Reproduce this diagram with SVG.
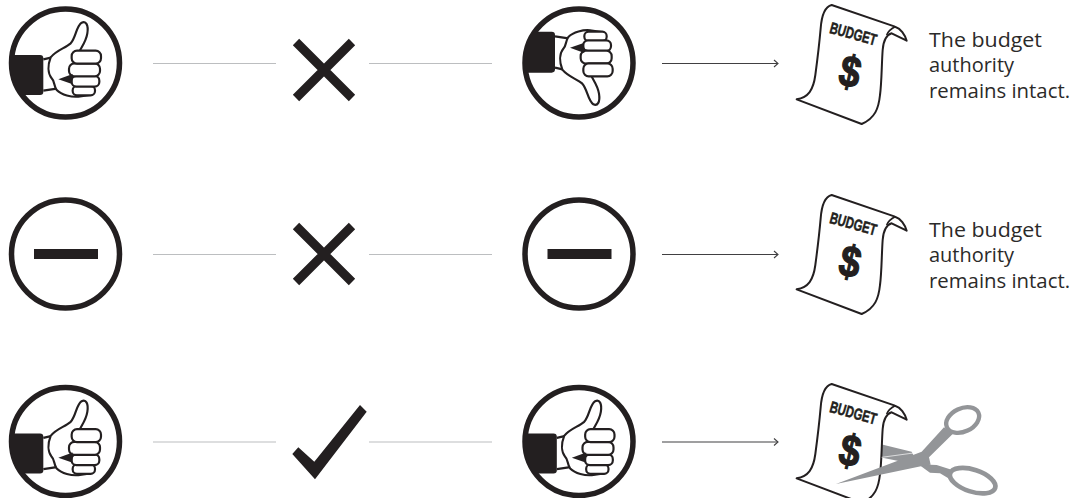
<svg xmlns="http://www.w3.org/2000/svg" width="1082" height="498" viewBox="0 0 1082 498">
<style>
.ring{fill:#fff;stroke:#231f20;stroke-width:5.5}
.k{fill:#231f20}
.h{fill:#fff;stroke:#231f20;stroke-width:6.5;stroke-linejoin:round}
.g{stroke:#bcbec0;stroke-width:1.2;fill:none}
.a{stroke:#414042;stroke-width:1.2;fill:none}
.mark{stroke:#231f20;stroke-width:9;fill:none}
.doc{fill:#fff;stroke:#231f20;stroke-width:6;stroke-linejoin:round}
.t{font-family:"Open Sans",Lato,sans-serif;font-size:19.5px;fill:#2b2a29}
.bt{font-family:"Liberation Sans",sans-serif;font-weight:bold;fill:#231f20}
.sc{fill:#939598}
.scr{fill:none;stroke:#939598}
</style>
<defs>
<marker id="ah" markerUnits="userSpaceOnUse" markerWidth="8" markerHeight="10" refX="6.5" refY="5" orient="auto"><path d="M2.5 1.5 L6.5 5 L2.5 8.5" fill="none" stroke="#414042" stroke-width="1.1"/></marker>
<g id="hand">
<path class="h" d="M130 178 L156 172 M130 272 L170 266" fill="none"/>
<path class="h" d="M152 172 C170 150 195 145 212 130 C228 112 228 80 245 68 C258 62 266 75 262 100 C258 125 245 140 238 155 L280 160 L270 285 L235 290 C215 292 185 285 170 270 C160 255 165 245 155 235 C143 220 143 195 152 172 Z"/>
<rect class="h" x="218" y="258" width="67" height="28" rx="13"/>
<rect class="h" x="215" y="228" width="83" height="32" rx="14"/>
<rect class="h" x="207" y="190" width="93" height="39" rx="16"/>
<rect class="h" x="215" y="152" width="88" height="39" rx="16"/>
<path class="k" d="M175 238 L218 222 L216 252 Z"/>
</g>
<path id="cuffUp" class="k" d="M30 165 H120 Q130 165 130 175 V275 Q130 285 120 285 H62 A168 168 0 0 1 30 165 Z"/>
<g id="up">
<circle class="ring" cx="65.5" cy="63" r="54"/>
<g transform="scale(.33333)"><use href="#cuffUp"/><use href="#hand"/></g>
</g>
<g id="minus">
<circle class="ring" cx="65.5" cy="63" r="54"/>
<rect class="k" x="34" y="58" width="64" height="10"/>
</g>
<g id="budget">
<path class="doc" d="M345 80 C362 85 375 105 380 122 L335 100 C318 105 310 125 308 150 C305 190 305 250 300 285 C296 325 285 355 245 372 L50 298 C85 292 100 270 106 225 C112 180 118 130 122 85 C125 45 135 20 155 15 Z"/>
<path fill="none" stroke="#231f20" stroke-width="5" d="M345 80 C335 85 325 92 320 105"/>
<text class="bt" transform="translate(146 98) rotate(15.5)" font-size="48" textLength="144" lengthAdjust="spacingAndGlyphs" stroke="#231f20" stroke-width="1.5">BUDGET</text>
<text class="bt" transform="translate(170 252) rotate(13)" font-size="132" textLength="62" lengthAdjust="spacingAndGlyphs" stroke="#231f20" stroke-width="4">$</text>
</g>
</defs>

<g id="connectors">
<path class="g" d="M153 63.5H276M369 63.5H492"/>
<path class="g" d="M153 254.5H276M369 254.5H492"/>
<path class="g" d="M153 442H276M369 442H492"/>
<path class="a" d="M662 63.5H778" marker-end="url(#ah)"/>
<path class="a" d="M662 254.5H778" marker-end="url(#ah)"/>
<path class="a" d="M662 442H778" marker-end="url(#ah)"/>
</g>

<g id="r1-vote-a"><use href="#up"/></g>
<g id="r1-cross"><path class="mark" d="M296 42L352 98M352 42L296 98"/></g>
<g id="r1-vote-b">
<circle class="ring" cx="579" cy="63" r="54"/>
<g transform="translate(510 0) scale(.33333)">
<path class="k" d="M72 95 H125 Q135 95 135 105 V208 Q135 218 125 218 H46 A168 168 0 0 1 72 95 Z"/>
<use href="#hand" transform="translate(5 381) scale(1 -1)"/>
</g>
</g>
<g id="r1-budget"><use href="#budget" transform="translate(780 0) scale(.33333)"/></g>
<g id="r1-text">
<text class="t" x="929" y="47" textLength="113" lengthAdjust="spacingAndGlyphs">The budget</text>
<text class="t" x="929" y="72" textLength="85" lengthAdjust="spacingAndGlyphs">authority</text>
<text class="t" x="929" y="97.5" textLength="141" lengthAdjust="spacingAndGlyphs">remains intact.</text>
</g>

<g id="r2-vote-a"><use href="#minus" transform="translate(0 191)"/></g>
<g id="r2-cross"><path class="mark" d="M296 226L352 282M352 226L296 282"/></g>
<g id="r2-vote-b"><use href="#minus" transform="translate(513.5 191)"/></g>
<g id="r2-budget"><use href="#budget" transform="translate(780 190) scale(.33333)"/></g>
<g id="r2-text">
<text class="t" x="929" y="237" textLength="113" lengthAdjust="spacingAndGlyphs">The budget</text>
<text class="t" x="929" y="262" textLength="85" lengthAdjust="spacingAndGlyphs">authority</text>
<text class="t" x="929" y="287.5" textLength="141" lengthAdjust="spacingAndGlyphs">remains intact.</text>
</g>

<g id="r3-vote-a"><use href="#up" transform="translate(0 378.5)"/></g>
<g id="r3-check"><path class="k" d="M292.3 454L298.3 447.3L314.3 461.7L360 405L366.7 411.7L315 479.3Z"/></g>
<g id="r3-vote-b"><use href="#up" transform="translate(513.5 378.5)"/></g>
<g id="r3-budget">
<g transform="translate(780 370) scale(.33333)">
<path class="sc" d="M300 222 L395 245 L415 285 L300 262 Z"/>
<path class="sc" d="M415 283 L470 285 L510 298 L510 328 L480 310 L450 308 Z"/>
<ellipse class="scr" stroke-width="14" cx="578" cy="332" rx="71" ry="33" transform="rotate(18 578 332)"/>
</g>
<use href="#budget" transform="translate(780 379) scale(.33333)"/>
<g transform="translate(780 370) scale(.33333)">
<ellipse class="scr" stroke-width="13" cx="548" cy="150" rx="52" ry="35" transform="rotate(-25 548 150)"/>
<path class="sc" d="M492 172 L518 192 L447 262 L452 284 L430 287 L168 342 L425 245 Z"/>
<path fill="none" stroke="#fff" stroke-width="2" d="M305 262 L415 247"/>
</g>
</g>
</svg>
